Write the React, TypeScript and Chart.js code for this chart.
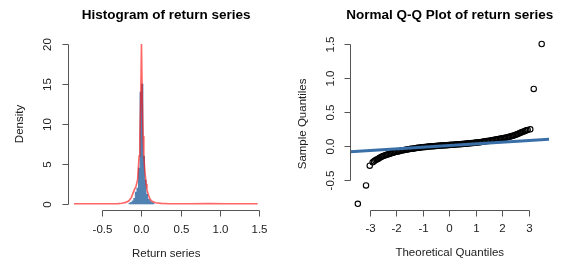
import React, { useEffect, useRef } from "react";
import { Chart, registerables } from "chart.js";

Chart.register(...registerables);

// ---------- Histogram data ----------
const histTitle = "Histogram of return series";
const histXLabel = "Return series";
const histYLabel = "Density";
const binMids = [-0.15, -0.13, -0.11, -0.09, -0.07, -0.05, -0.03, -0.01, 0.01, 0.03, 0.05, 0.07, 0.09, 0.11, 0.13, 0.15];
const binDensity = [0.1, 0.2, 0.4, 0.7, 1.5, 2.0, 4.5, 14, 15, 6, 3, 1.2, 0.6, 0.4, 0.2, 0.1];
const densX = [-0.86, -0.6, -0.4, -0.3, -0.25, -0.2, -0.16, -0.13, -0.11, -0.09, -0.07, -0.05, -0.04, -0.03, -0.02, -0.01, 0, 0.01, 0.02, 0.03, 0.04, 0.05, 0.06, 0.07, 0.09, 0.11, 0.14, 0.18, 0.25, 0.35, 0.6, 0.85, 1.1, 1.48];
const densY = [0.03, 0.03, 0.03, 0.05, 0.1, 0.2, 0.4, 0.8, 1.3, 1.8, 2.2, 3.0, 4.5, 6.0, 8.5, 13, 20, 13, 8.5, 6.0, 4.5, 3.5, 2.5, 1.8, 1.1, 0.6, 0.3, 0.15, 0.08, 0.04, 0.03, 0.05, 0.03, 0.03];
const histXTicks = [-0.5, 0, 0.5, 1, 1.5];
const histXTickLabels = ["-0.5", "0.0", "0.5", "1.0", "1.5"];
const histYTicks = [0, 5, 10, 15, 20];
const histYTickLabels = ["0", "5", "10", "15", "20"];

// ---------- Q-Q data ----------
const qqTitle = "Normal Q-Q Plot of return series";
const qqXLabel = "Theoretical Quantiles";
const qqYLabel = "Sample Quantiles";
const qqTheoretical = [
  -3.46, -3.15, -3.01,
  -2.9, -2.85, -2.8, -2.75, -2.7, -2.65, -2.6, -2.55, -2.5, -2.45, -2.4, -2.35, -2.3, -2.25, -2.2, -2.15, -2.1, -2.05,
  -2.0, -1.95, -1.9, -1.85, -1.8, -1.75, -1.7, -1.65, -1.6, -1.55, -1.5, -1.45, -1.4, -1.35, -1.3, -1.25, -1.2, -1.15, -1.1, -1.05,
  -1.0, -0.95, -0.9, -0.85, -0.8, -0.75, -0.7, -0.65, -0.6, -0.55, -0.5, -0.45, -0.4, -0.35, -0.3, -0.25, -0.2, -0.15, -0.1, -0.05,
  0.0, 0.05, 0.1, 0.15, 0.2, 0.25, 0.3, 0.35, 0.4, 0.45, 0.5, 0.55, 0.6, 0.65, 0.7, 0.75, 0.8, 0.85, 0.9, 0.95,
  1.0, 1.05, 1.1, 1.15, 1.2, 1.25, 1.3, 1.35, 1.4, 1.45, 1.5, 1.55, 1.6, 1.65, 1.7, 1.75, 1.8, 1.85, 1.9, 1.95,
  2.0, 2.05, 2.1, 2.15, 2.2, 2.25, 2.3, 2.35, 2.4, 2.45, 2.5, 2.55, 2.6, 2.65, 2.7, 2.75, 2.8, 2.85, 2.9,
  2.95, 3.05, 3.18, 3.48,
];
const qqSample = [
  -0.85, -0.58, -0.29,
  -0.24, -0.225, -0.21, -0.2, -0.19, -0.177, -0.165, -0.156, -0.148, -0.14, -0.133, -0.126, -0.12, -0.113, -0.107, -0.101, -0.096, -0.09,
  -0.085, -0.08, -0.076, -0.071, -0.067, -0.063, -0.059, -0.055, -0.052, -0.048, -0.045, -0.042, -0.039, -0.036, -0.033, -0.03, -0.027, -0.024, -0.022, -0.019,
  -0.017, -0.015, -0.013, -0.011, -0.009, -0.007, -0.005, -0.003, -0.002, 0.0, 0.001, 0.003, 0.004, 0.006, 0.007, 0.009, 0.01, 0.011, 0.012, 0.014,
  0.015, 0.017, 0.018, 0.02, 0.021, 0.023, 0.024, 0.026, 0.027, 0.029, 0.03, 0.032, 0.033, 0.035, 0.037, 0.039, 0.041, 0.043, 0.045, 0.047,
  0.05, 0.052, 0.055, 0.057, 0.06, 0.063, 0.066, 0.069, 0.072, 0.075, 0.078, 0.081, 0.085, 0.088, 0.092, 0.095, 0.099, 0.102, 0.106, 0.109,
  0.113, 0.117, 0.121, 0.125, 0.13, 0.135, 0.14, 0.146, 0.152, 0.158, 0.165, 0.172, 0.18, 0.19, 0.2, 0.207, 0.215, 0.222, 0.23,
  0.235, 0.245, 0.84, 1.5,
];
const qqLineX = [-3.74, 3.76];
const qqLineY = [-0.083, 0.098];
const qqXTicks = [-3, -2, -1, 0, 1, 2, 3];
const qqXTickLabels = ["-3", "-2", "-1", "0", "1", "2", "3"];
const qqYTicks = [-0.5, 0, 0.5, 1, 1.5];
const qqYTickLabels = ["-0.5", "0.0", "0.5", "1.0", "1.5"];

const FONT = "'Liberation Sans', Arial, Helvetica, sans-serif";

type AxisCfg = {
  title: string;
  xLabel: string;
  yLabel: string;
  xTicks: number[];
  xTickLabels: string[];
  yTicks: number[];
  yTickLabels: string[];
};

function rAxesPlugin(cfg: AxisCfg) {
  return {
    id: "rAxes",
    afterDraw(chart: any) {
      const ctx: CanvasRenderingContext2D = chart.ctx;
      const { left, right, top, bottom } = chart.chartArea;
      const xs = chart.scales.x;
      const ys = chart.scales.y;
      ctx.save();
      ctx.strokeStyle = "#555";
      ctx.lineWidth = 1;
      ctx.fillStyle = "#222";

      // x axis
      const ya = Math.round(bottom) + 0.5;
      const xp = cfg.xTicks.map((v) => Math.round(xs.getPixelForValue(v)) + 0.5);
      ctx.beginPath();
      ctx.moveTo(xp[0], ya);
      ctx.lineTo(xp[xp.length - 1], ya);
      xp.forEach((p) => {
        ctx.moveTo(p, ya);
        ctx.lineTo(p, ya + 6);
      });
      ctx.stroke();
      ctx.font = `11.5px ${FONT}`;
      ctx.textAlign = "center";
      ctx.textBaseline = "middle";
      xp.forEach((p, i) => ctx.fillText(cfg.xTickLabels[i], p, bottom + 19));
      ctx.fillText(cfg.xLabel, (left + right) / 2, bottom + 43);

      // y axis
      const xa = Math.round(left) + 0.5;
      const yp = cfg.yTicks.map((v) => Math.round(ys.getPixelForValue(v)) + 0.5);
      ctx.beginPath();
      ctx.moveTo(xa, yp[0]);
      ctx.lineTo(xa, yp[yp.length - 1]);
      yp.forEach((p) => {
        ctx.moveTo(xa, p);
        ctx.lineTo(xa - 6, p);
      });
      ctx.stroke();
      yp.forEach((p, i) => {
        ctx.save();
        ctx.translate(left - 20, p);
        ctx.rotate(-Math.PI / 2);
        ctx.fillText(cfg.yTickLabels[i], 0, 0);
        ctx.restore();
      });
      ctx.save();
      ctx.translate(left - 47.5, (top + bottom) / 2);
      ctx.rotate(-Math.PI / 2);
      ctx.fillText(cfg.yLabel, 0, 0);
      ctx.restore();

      // main title
      ctx.fillStyle = "#000";
      ctx.font = `bold 13.5px ${FONT}`;
      ctx.fillText(cfg.title, (left + right) / 2, top - 22.5);
      ctx.restore();
    },
  };
}

export default function App() {
  const histRef = useRef<HTMLCanvasElement>(null);
  const qqRef = useRef<HTMLCanvasElement>(null);

  useEffect(() => {
    const hist = new Chart(histRef.current as HTMLCanvasElement, {
      type: "bar",
      data: {
        datasets: [
          {
            type: "line",
            data: densX.map((x, i) => ({ x, y: densY[i] })),
            borderColor: "rgba(255,20,20,0.65)",
            borderWidth: 1.6,
            pointRadius: 0,
            tension: 0,
            order: 0,
          } as any,
          {
            type: "bar",
            data: binMids.map((x, i) => ({ x, y: binDensity[i] })),
            backgroundColor: "rgba(75,125,175,0.95)",
            borderColor: "rgba(190,210,230,0.6)",
            borderWidth: 0,
            barPercentage: 1,
            categoryPercentage: 1,
            grouped: false,
            order: 1,
          } as any,
        ],
      },
      options: {
        responsive: false,
        animation: false,
        devicePixelRatio: 1,
        layout: { padding: { left: 67.7, right: 26.3, top: 37.6, bottom: 57.6 } },
        plugins: { legend: { display: false }, tooltip: { enabled: false }, title: { display: false } },
        scales: {
          x: { type: "linear", min: -0.94, max: 1.57, display: false, offset: false },
          y: { type: "linear", min: -0.8, max: 20.8, display: false },
        },
      } as any,
      plugins: [
        rAxesPlugin({
          title: histTitle,
          xLabel: histXLabel,
          yLabel: histYLabel,
          xTicks: histXTicks,
          xTickLabels: histXTickLabels,
          yTicks: histYTicks,
          yTickLabels: histYTickLabels,
        }),
      ],
    });

    const qq = new Chart(qqRef.current as HTMLCanvasElement, {
      type: "scatter",
      data: {
        datasets: [
          {
            type: "line",
            data: qqLineX.map((x, i) => ({ x, y: qqLineY[i] })),
            borderColor: "#3a6fa8",
            borderWidth: 3,
            pointRadius: 0,
            order: 0,
          } as any,
          {
            type: "scatter",
            data: qqTheoretical.map((x, i) => ({ x, y: qqSample[i] })),
            pointStyle: "circle",
            pointRadius: 2.7,
            borderColor: "#000",
            borderWidth: 1.1,
            backgroundColor: "rgba(0,0,0,0)",
            order: 1,
          } as any,
        ],
      },
      options: {
        responsive: false,
        animation: false,
        devicePixelRatio: 1,
        layout: { padding: { left: 59.4, right: 32.9, top: 37.6, bottom: 57.8 } },
        plugins: { legend: { display: false }, tooltip: { enabled: false }, title: { display: false } },
        scales: {
          x: { type: "linear", min: -3.74, max: 3.76, display: false },
          y: { type: "linear", min: -0.944, max: 1.594, display: false },
        },
      } as any,
      plugins: [
        rAxesPlugin({
          title: qqTitle,
          xLabel: qqXLabel,
          yLabel: qqYLabel,
          xTicks: qqXTicks,
          xTickLabels: qqXTickLabels,
          yTicks: qqYTicks,
          yTickLabels: qqYTickLabels,
        }),
      ],
    });

    return () => {
      hist.destroy();
      qq.destroy();
    };
  }, []);

  return (
    <div style={{ position: "fixed", left: 0, top: 0, width: 582, height: 268, background: "#fff" }}>
      <canvas ref={histRef} width={291} height={268} style={{ position: "absolute", left: 0, top: 0 }} />
      <canvas ref={qqRef} width={291} height={268} style={{ position: "absolute", left: 291, top: 0 }} />
    </div>
  );
}
